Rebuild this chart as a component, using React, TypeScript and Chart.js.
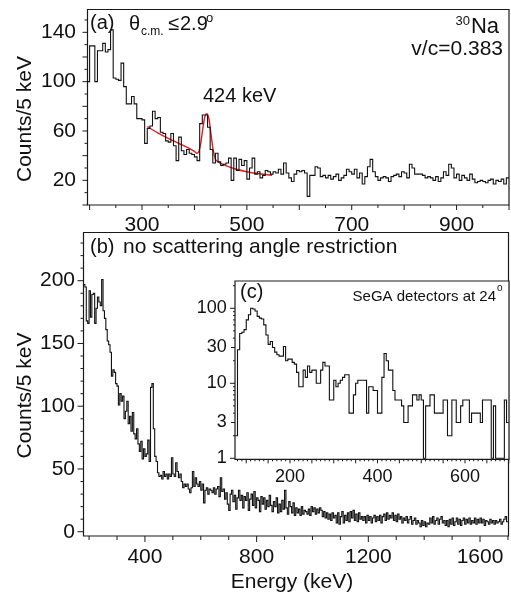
import React, { useEffect, useRef } from 'react';
import { Chart, registerables } from 'chart.js';

Chart.register(...registerables);

const FONT = '"Liberation Sans", Arial, Helvetica, sans-serif';

// ---------- Panel (a): theta_cm <= 2.9 deg, 5 keV bins starting at 195 keV ----------
const aStart = 195;
const aBin = 5;
const aCounts = [
  100, 129, 129, 100, 125, 125, 131, 124, 126, 142,
  103, 102, 101, 115, 96, 82, 82, 88, 82, 70,
  70, 69, 50, 62, 64, 76, 70, 71, 59, 58,
  52, 51, 58, 48, 36, 55, 44, 41, 45, 42,
  41, 39, 36, 66, 73, 73,
  63, 45, 34, 42, 35, 32, 33, 34, 38, 20, 38, 28, 37, 32, 36, 21,
  30, 38, 25, 27, 22, 24, 28, 27, 25, 27,
  26, 29, 25, 34, 26, 22, 19, 25, 28, 27,
  28, 26, 7, 24, 24, 31, 30, 23, 24, 22,
  24, 21, 23, 25, 20, 22, 24, 29, 27, 25,
  29, 22, 26, 17, 23, 31, 37, 27, 23, 20,
  22, 23, 22, 19, 23, 24, 25, 23, 27, 26,
  22, 33, 30, 25, 25, 25, 24, 22, 23, 22,
  20, 23, 19, 22, 27, 24, 33, 30, 22, 25,
  20, 24, 22, 20, 25, 21, 18, 19, 20, 19,
  18, 20, 21, 17, 20, 19, 21, 17, 22,
];
// fit curve (background + 424 keV peak)
const fitEnergy = [310, 330, 350, 370, 390, 400, 405, 408, 412, 416, 420, 424, 428, 432, 436, 440, 445, 460, 480, 500, 520, 548];
const fitCounts = [63.5, 58.5, 54, 50, 46, 43.5, 42, 43, 50, 62, 72, 74, 69, 56, 44, 37, 35, 32, 29, 27, 25.5, 24];
const aXTicks = [300, 500, 700, 900];
const aYTicks = [20, 60, 100, 140];

// ---------- Panel (b): no angle restriction, 5 keV bins starting at 180 keV ----------
const bStart = 180;
const bBin = 5;
const bCounts = [
  197, 195, 168, 166, 192, 171, 189, 190, 166, 178, 187, 183, 180, 201, 176, 170, 161, 152, 149, 143,
  124, 129, 127, 118, 116, 101, 110, 104, 108, 90, 96, 104, 86, 92, 80, 95, 78, 74, 82, 70,
  64, 72, 58, 66, 60, 62, 73, 56, 115, 118, 82, 60, 56, 47, 44, 45, 42, 48, 44, 46,
  42, 46, 44, 59, 46, 44, 55, 48, 43, 46, 40, 35, 38, 36, 38, 34, 31, 35, 48, 36,
  43, 38, 36, 40, 33, 38, 23, 33, 35, 30, 34, 33, 31, 35, 30, 34, 36, 28, 43, 32,
  34, 26, 31, 22, 17, 30, 33, 24, 29, 18, 27, 33, 25, 29, 19, 28, 25, 31, 17, 26,
  30, 21, 32, 19, 27, 25, 16, 28, 22, 27, 18, 25, 20, 29, 21, 16, 24, 20, 27, 15,
  22, 16, 25, 18, 33, 19, 14, 24, 20, 15, 23, 13, 19, 15, 18, 13, 20, 14, 17, 16,
  14, 18, 13, 20, 16, 19, 14, 18, 15, 19, 17, 12, 16, 11, 15, 10, 14, 9, 15, 11,
  13, 7, 15, 6, 12, 16, 7, 13, 9, 15, 8, 16, 11, 17, 9, 14, 8, 15, 10, 12,
  9, 12, 7, 13, 9, 12, 7, 11, 13, 8, 12, 9, 13, 7, 12, 14, 9, 15, 10, 13,
  11, 15, 9, 13, 8, 14, 10, 12, 7, 11, 9, 12, 7, 10, 12, 6, 9, 11, 6, 9,
  7, 4, 9, 5, 8, 4, 7, 6, 11, 7, 12, 6, 9, 11, 6, 10, 12, 7, 9, 5,
  9, 4, 10, 6, 11, 5, 8, 11, 6, 10, 5, 9, 11, 6, 10, 7, 11, 6, 9, 7,
  11, 6, 10, 7, 11, 7, 10, 5, 9, 8, 6, 10, 7, 9, 6, 9, 7, 8, 10, 6, 8, 10, 12, 8,
];
const bXTicks = [400, 800, 1200, 1600];
const bYTicks = [0, 50, 100, 150, 200];

// ---------- Inset (c): SeGA detectors at 24 deg, 5 keV bins starting at 75 keV ----------
const cStart = 75;
const cBin = 5;
const cCounts = [
  2, 28, 46, 48, 52, 70, 82, 100, 98, 92,
  78, 74, 72, 60, 44, 33, 36, 30, 26, 24,
  23, 23, 31, 20, 21, 21, 19, 18, 14, 9,
  9, 15, 12, 17, 14, 15, 15, 10, 10, 15,
  19, 17, 17, 6, 6, 11, 9, 10, 11, 12,
  13, 13, 4, 4, 7, 10, 11, 11, 11, 11,
  4, 9, 9, 8, 8, 4, 4, 12, 25, 20,
  15, 15, 8, 6, 6, 6, 5, 3, 3, 5,
  5, 7, 7, 6, 7, 6, 1, 5, 5, 7,
  7, 4, 4, 4, 4, 6, 6, 2, 2, 6,
  6, 3, 3, 5, 6, 6, 6, 3, 4, 4,
  4, 4, 3, 6, 6, 6, 6, 1, 5, 1,
  1, 1, 1, 6, 3,
];
const cXTicks = [200, 400, 600];
const cYTicks = [1, 3, 10, 30, 100];

// ---------- helpers ----------
function histPoints(start: number, bin: number, counts: number[]) {
  const pts = counts.map((c, i) => ({ x: start + i * bin, y: c }));
  pts.push({ x: start + counts.length * bin, y: counts[counts.length - 1] });
  return pts;
}

function range(from: number, to: number, step: number) {
  const out: number[] = [];
  for (let v = from; v <= to + 1e-9; v += step) out.push(v);
  return out;
}

type Txt = { text: string; x: number; y: number; size: number; align?: CanvasTextAlign; base?: CanvasTextBaseline; rot?: boolean };
type TickSet = { id: string; marks: [number, number][] };

const decoPlugin = {
  id: 'deco',
  beforeDraw(chart: any, _args: any, opts: any) {
    if (opts.bg) {
      const { left, right, top, bottom } = chart.chartArea;
      const ctx = chart.ctx;
      ctx.save();
      ctx.fillStyle = '#ffffff';
      ctx.fillRect(left, top, right - left, bottom - top);
      ctx.restore();
    }
  },
  afterDraw(chart: any, _args: any, opts: any) {
    const ctx = chart.ctx as CanvasRenderingContext2D;
    const area = chart.chartArea;
    const left = area.left, right = area.right, top = area.top, bottom = area.bottom;
    ctx.save();
    ctx.strokeStyle = '#1a1a1a';
    ctx.lineWidth = 1.2;
    ctx.beginPath();
    ctx.moveTo(left, top);
    ctx.lineTo(right, top);
    ctx.lineTo(right, bottom);
    ctx.lineTo(left, bottom);
    ctx.closePath();
    ctx.stroke();
    ctx.lineWidth = 1;
    const tickSets = (opts.tickSets || []) as TickSet[];
    for (const t of tickSets) {
      const scale = chart.scales[t.id];
      for (const [v, len] of t.marks) {
        const p = scale.getPixelForValue(v);
        ctx.beginPath();
        if (t.id === 'x') {
          if (p < left - 0.5 || p > right + 0.5) continue;
          ctx.moveTo(p, bottom);
          ctx.lineTo(p, bottom + len);
        } else {
          if (p < top - 0.5 || p > bottom + 0.5) continue;
          ctx.moveTo(left, p);
          ctx.lineTo(left - len, p);
        }
        ctx.stroke();
      }
    }
    ctx.fillStyle = '#111';
    for (const s of (opts.texts || []) as Txt[]) {
      ctx.font = `${s.size}px ${FONT}`;
      ctx.textAlign = s.align || 'left';
      ctx.textBaseline = s.base || 'alphabetic';
      if (s.rot) {
        ctx.save();
        ctx.translate(s.x, s.y);
        ctx.rotate(-Math.PI / 2);
        ctx.fillText(s.text, 0, 0);
        ctx.restore();
      } else {
        ctx.fillText(s.text, s.x, s.y);
      }
    }
    ctx.restore();
  },
};

function axis(opts: {
  type?: string; min: number; max: number; ticks: number[]; size: number; pad: number; w?: number; h?: number;
}) {
  return {
    type: opts.type || 'linear',
    min: opts.min,
    max: opts.max,
    afterBuildTicks: (s: any) => {
      s.ticks = opts.ticks.map((v) => ({ value: v }));
    },
    afterFit: (s: any) => {
      if (opts.w != null) s.width = opts.w;
      if (opts.h != null) s.height = opts.h;
      s.paddingTop = 0;
      s.paddingBottom = 0;
      s.paddingLeft = 0;
      s.paddingRight = 0;
    },
    grid: { display: false, drawTicks: false, tickLength: 0 },
    border: { display: false },
    ticks: {
      font: { family: FONT, size: opts.size },
      color: '#111',
      padding: opts.pad,
      maxRotation: 0,
      autoSkip: false,
      callback: (v: any) => String(v),
    },
  };
}

function baseOptions(padding: any, scales: any, deco: any) {
  return {
    responsive: false,
    animation: false,
    devicePixelRatio: 1,
    layout: { padding },
    plugins: { legend: { display: false }, tooltip: { enabled: false }, deco },
    scales,
    elements: { point: { radius: 0 } },
  };
}

function histDataset(pts: any[], color = '#111', width = 1.1) {
  return {
    data: pts,
    borderColor: color,
    borderWidth: width,
    stepped: true,
    pointRadius: 0,
    fill: false,
  };
}

function configA(): any {
  const marksX: [number, number][] = range(200, 1000, 50).map((v) => [v, v % 100 === 0 ? 5 : 3]);
  const marksY: [number, number][] = range(0, 150, 10).map((v) => [v, v % 20 === 0 ? 5 : 3]);
  return {
    type: 'line',
    data: {
      datasets: [
        histDataset(histPoints(aStart, aBin, aCounts)),
        {
          data: fitEnergy.map((e, i) => ({ x: e, y: fitCounts[i] })),
          borderColor: '#e8191f',
          borderWidth: 1.4,
          pointRadius: 0,
          cubicInterpolationMode: 'monotone',
          fill: false,
        },
      ],
    },
    options: baseOptions(
      { left: 0, top: 9.5, right: 2, bottom: 0 },
      {
        x: axis({ min: 196, max: 1000, ticks: aXTicks, size: 21, pad: 7.5, h: 30 }),
        y: axis({ min: 0, max: 158.5, ticks: aYTicks, size: 21, pad: 11.5, w: 87.5 }),
      },
      {
        tickSets: [{ id: 'x', marks: marksX }, { id: 'y', marks: marksY }],
        texts: [
          { text: '(a)', x: 90, y: 29, size: 20 },
          { text: 'θ', x: 129, y: 30, size: 20 },
          { text: 'c.m.', x: 141, y: 35, size: 12 },
          { text: '≤', x: 168, y: 30, size: 20 },
          { text: '2.9', x: 180, y: 30, size: 20 },
          { text: 'o', x: 206, y: 22, size: 13 },
          { text: 'Na', x: 499, y: 33, size: 22, align: 'right' },
          { text: '30', x: 470, y: 25, size: 13, align: 'right' },
          { text: 'v/c=0.383', x: 503, y: 55, size: 21, align: 'right' },
          { text: '424 keV', x: 203, y: 102, size: 20 },
          { text: 'Counts/5 keV', x: 25, y: 119, size: 21, align: 'center', base: 'middle', rot: true },
        ],
      },
    ),
  };
}

function configB(): any {
  const oy = 225;
  const marksX: [number, number][] = range(200, 1700, 100).map((v) => [v, v % 400 === 0 ? 6 : 4]);
  const marksY: [number, number][] = range(0, 230, 10).map((v) => [v, v % 50 === 0 ? 6 : 3]);
  return {
    type: 'line',
    data: { datasets: [histDataset(histPoints(bStart, bBin, bCounts))] },
    options: baseOptions(
      { left: 0, top: 7.5, right: 2.5, bottom: 0 },
      {
        x: axis({ min: 180, max: 1702, ticks: bXTicks, size: 21, pad: 8.5, h: 61 }),
        y: axis({ min: -3.4, max: 238.4, ticks: bYTicks, size: 21, pad: 8.5, w: 83.5 }),
      },
      {
        tickSets: [{ id: 'x', marks: marksX }, { id: 'y', marks: marksY }],
        texts: [
          { text: '(b)', x: 90, y: 253 - oy, size: 20 },
          { text: 'no scattering angle restriction', x: 123, y: 253 - oy, size: 21 },
          { text: 'Energy (keV)', x: 292, y: 588 - oy, size: 21, align: 'center' },
          { text: 'Counts/5 keV', x: 25, y: 395.5 - oy, size: 21, align: 'center', base: 'middle', rot: true },
        ],
      },
    ),
  };
}

function configC(): any {
  const ox = 195;
  const oy = 275;
  const marksX: [number, number][] = range(80, 700, 10).map((v) => [v, v % 50 === 0 ? 4 : 2]);
  const logMarks: [number, number][] = [];
  [1, 10, 100].forEach((d) => {
    for (let m = 1; m <= 9; m++) {
      const v = m * d;
      if (v > 230) break;
      logMarks.push([v, m === 1 ? 5 : m === 3 ? 4 : 2]);
    }
  });
  return {
    type: 'line',
    data: { datasets: [histDataset(histPoints(cStart, cBin, cCounts))] },
    options: baseOptions(
      { left: 0, top: 6, right: 2, bottom: 0 },
      {
        x: axis({ min: 74.3, max: 700.6, ticks: cXTicks, size: 18, pad: 7, h: 25.7 }),
        y: axis({ type: 'logarithmic', min: 0.97, max: 231, ticks: cYTicks, size: 18, pad: 8.3, w: 40 }),
      },
      {
        bg: true,
        tickSets: [{ id: 'x', marks: marksX }, { id: 'y', marks: logMarks }],
        texts: [
          { text: '(c)', x: 240 - ox, y: 298 - oy, size: 20 },
          { text: 'SeGA detectors at 24', x: 496 - ox, y: 300.5 - oy, size: 15, align: 'right' },
          { text: 'o', x: 497 - ox, y: 291 - oy, size: 10 },
        ],
      },
    ),
  };
}

Chart.register(decoPlugin as any);

export default function App() {
  const aRef = useRef<HTMLCanvasElement>(null);
  const bRef = useRef<HTMLCanvasElement>(null);
  const cRef = useRef<HTMLCanvasElement>(null);

  useEffect(() => {
    const charts = [
      new Chart(aRef.current!, configA()),
      new Chart(bRef.current!, configB()),
      new Chart(cRef.current!, configC()),
    ];
    return () => charts.forEach((c) => c.destroy());
  }, []);

  return (
    <div style={{ position: 'absolute', left: 0, top: 0, width: 511, height: 597, background: '#fff', overflow: 'hidden' }}>
      <canvas ref={aRef} width={511} height={235} style={{ position: 'absolute', left: 0, top: 0 }} />
      <canvas ref={bRef} width={511} height={372} style={{ position: 'absolute', left: 0, top: 225 }} />
      <canvas ref={cRef} width={316} height={210} style={{ position: 'absolute', left: 195, top: 275 }} />
    </div>
  );
}
